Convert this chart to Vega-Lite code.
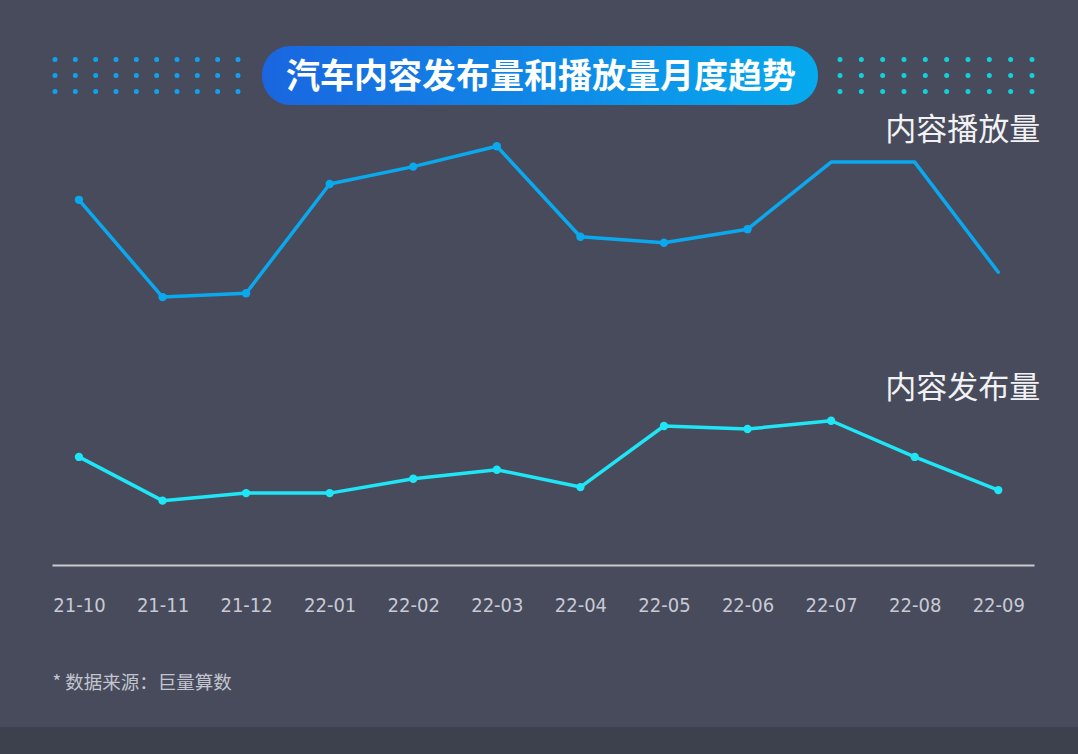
{
  "$schema": "https://vega.github.io/schema/vega-lite/v6.json",
  "width": 1078,
  "height": 754,
  "autosize": {"type": "none"},
  "padding": 0,
  "background": "#474b5b",
  "config": {"view": {"stroke": null}},
  "resolve": {"scale": {"x": "independent", "y": "independent"}},
  "layer": [
    {
      "data": {
        "values": [
          {"kind": "strip", "x": 0, "x2": 1078, "y": 727, "y2": 754},
          {"kind": "pill", "x": 262, "x2": 818, "y": 46, "y2": 105, "text": "汽车内容发布量和播放量月度趋势", "tx": 541, "ty": 78},
          {"kind": "dotsL", "x": 55, "x2": 238, "y": 59.5},
          {"kind": "dotsL", "x": 55, "x2": 238, "y": 75.5},
          {"kind": "dotsL", "x": 55, "x2": 238, "y": 91.5},
          {"kind": "dotsR", "x": 840, "x2": 1032, "y": 59.5},
          {"kind": "dotsR", "x": 840, "x2": 1032, "y": 75.5},
          {"kind": "dotsR", "x": 840, "x2": 1032, "y": 91.5}
        ]
      },
      "layer": [
        {
          "transform": [{"filter": "datum.kind === 'strip'"}],
          "mark": {"type": "rect", "fill": "#3d404d"},
          "encoding": {
            "x": {"field": "x", "type": "quantitative", "scale": {"domain": [0, 1078]}, "axis": null},
            "x2": {"field": "x2"},
            "y": {"field": "y", "type": "quantitative", "scale": {"domain": [754, 0]}, "axis": null},
            "y2": {"field": "y2"}
          }
        },
        {
          "transform": [{"filter": "datum.kind === 'pill'"}],
          "mark": {
            "type": "rect",
            "cornerRadius": 29,
            "fill": {
              "gradient": "linear",
              "x1": 0, "y1": 0, "x2": 1, "y2": 0,
              "stops": [
                {"offset": 0, "color": "#1a66e0"},
                {"offset": 1, "color": "#06aaee"}
              ]
            }
          },
          "encoding": {
            "x": {"field": "x", "type": "quantitative", "scale": {"domain": [0, 1078]}, "axis": null},
            "x2": {"field": "x2"},
            "y": {"field": "y", "type": "quantitative", "scale": {"domain": [754, 0]}, "axis": null},
            "y2": {"field": "y2"}
          }
        },
        {
          "transform": [{"filter": "datum.kind === 'pill'"}],
          "mark": {
            "type": "text",
            "font": "Noto Sans CJK SC",
            "fontSize": 34,
            "fontWeight": "bold",
            "color": "#ffffff",
            "align": "center",
            "baseline": "middle"
          },
          "encoding": {
            "x": {"field": "tx", "type": "quantitative", "scale": {"domain": [0, 1078]}, "axis": null},
            "y": {"field": "ty", "type": "quantitative", "scale": {"domain": [754, 0]}, "axis": null},
            "text": {"field": "text"}
          }
        },
        {
          "transform": [{"filter": "datum.kind === 'dotsL'"}],
          "mark": {"type": "rule", "color": "#0ea3f2", "strokeWidth": 5, "strokeCap": "round", "strokeDash": [0.01, 20.32]},
          "encoding": {
            "x": {"field": "x", "type": "quantitative", "scale": {"domain": [0, 1078]}, "axis": null},
            "x2": {"field": "x2"},
            "y": {"field": "y", "type": "quantitative", "scale": {"domain": [754, 0]}, "axis": null}
          }
        },
        {
          "transform": [{"filter": "datum.kind === 'dotsR'"}],
          "mark": {"type": "rule", "color": "#12d2d8", "strokeWidth": 5, "strokeCap": "round", "strokeDash": [0.01, 21.32]},
          "encoding": {
            "x": {"field": "x", "type": "quantitative", "scale": {"domain": [0, 1078]}, "axis": null},
            "x2": {"field": "x2"},
            "y": {"field": "y", "type": "quantitative", "scale": {"domain": [754, 0]}, "axis": null}
          }
        }
      ]
    },
    {
      "data": {
        "values": [
          {"month": "21-10", "series": "内容播放量", "value": 73.5},
          {"month": "21-11", "series": "内容播放量", "value": 60.6},
          {"month": "21-12", "series": "内容播放量", "value": 61.1},
          {"month": "22-01", "series": "内容播放量", "value": 75.6},
          {"month": "22-02", "series": "内容播放量", "value": 77.9},
          {"month": "22-03", "series": "内容播放量", "value": 80.6},
          {"month": "22-04", "series": "内容播放量", "value": 68.6},
          {"month": "22-05", "series": "内容播放量", "value": 67.8},
          {"month": "22-06", "series": "内容播放量", "value": 69.6},
          {"month": "22-07", "series": "内容播放量", "value": 78.5},
          {"month": "22-08", "series": "内容播放量", "value": 78.5},
          {"month": "22-09", "series": "内容播放量", "value": 63.9},
          {"month": "21-10", "series": "内容发布量", "value": 39.4},
          {"month": "21-11", "series": "内容发布量", "value": 33.6},
          {"month": "21-12", "series": "内容发布量", "value": 34.6},
          {"month": "22-01", "series": "内容发布量", "value": 34.6},
          {"month": "22-02", "series": "内容发布量", "value": 36.5},
          {"month": "22-03", "series": "内容发布量", "value": 37.7},
          {"month": "22-04", "series": "内容发布量", "value": 35.4},
          {"month": "22-05", "series": "内容发布量", "value": 43.5},
          {"month": "22-06", "series": "内容发布量", "value": 43.1},
          {"month": "22-07", "series": "内容发布量", "value": 44.2},
          {"month": "22-08", "series": "内容发布量", "value": 39.4},
          {"month": "22-09", "series": "内容发布量", "value": 35.0},
          {"month": "22-09", "series": "内容播放量", "labelValue": 82.6},
          {"month": "22-09", "series": "内容发布量", "labelValue": 48.4}
        ]
      },
      "encoding": {
        "x": {
          "field": "month",
          "type": "ordinal",
          "sort": null,
          "scale": {"type": "point", "range": [52, 1034], "padding": 0.375, "align": 0.43},
          "axis": {
            "orient": "bottom",
            "offset": -189,
            "domain": true,
            "domainColor": "#c9cad0",
            "domainWidth": 2,
            "ticks": false,
            "grid": false,
            "labelAngle": 0,
            "labelFont": "DejaVu Sans Condensed",
            "labelFontSize": 20,
            "labelColor": "#c8cad6",
            "labelPadding": 40,
            "labelBaseline": "middle",
            "title": "* 数据来源：巨量算数",
            "titleFont": "Noto Sans CJK SC",
            "titleFontSize": 18.5,
            "titleFontWeight": "normal",
            "titleColor": "#c2c5ce",
            "titleAnchor": "start",
            "titleAlign": "left",
            "titleBaseline": "middle",
            "titleX": 52,
            "titleY": 117
          }
        },
        "color": {
          "field": "series",
          "type": "nominal",
          "scale": {"domain": ["内容播放量", "内容发布量"], "range": ["#0aa9ef", "#1fe6f6"]},
          "legend": null
        }
      },
      "layer": [
        {
          "transform": [{"filter": "isValid(datum.value)"}],
          "mark": {"type": "line", "strokeWidth": 3.5, "strokeJoin": "round", "strokeCap": "round"},
          "encoding": {"y": {"field": "value", "type": "quantitative", "scale": {"domain": [0, 100]}, "axis": null}}
        },
        {
          "transform": [
            {"filter": "isValid(datum.value)"},
            {"filter": "!(datum.series === '内容播放量' && (datum.month === '22-07' || datum.month === '22-08' || datum.month === '22-09'))"}
          ],
          "mark": {"type": "circle", "size": 70, "opacity": 1},
          "encoding": {"y": {"field": "value", "type": "quantitative", "scale": {"domain": [0, 100]}, "axis": null}}
        },
        {
          "transform": [{"filter": "isValid(datum.labelValue)"}],
          "mark": {"type": "text", "font": "Noto Sans CJK SC", "fontSize": 31, "fontWeight": "normal", "align": "right", "baseline": "middle", "dx": 42},
          "encoding": {
            "y": {"field": "labelValue", "type": "quantitative", "scale": {"domain": [0, 100]}, "axis": null},
            "text": {"field": "series"},
            "color": {"value": "#f2f2f4"}
          }
        }
      ]
    }
  ]
}
